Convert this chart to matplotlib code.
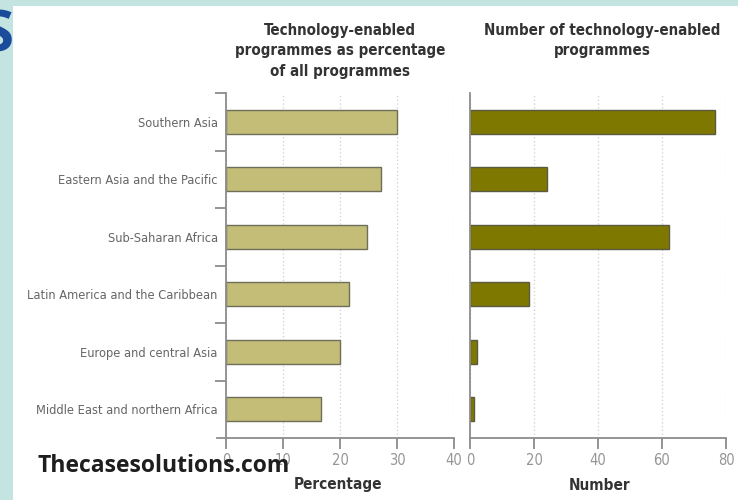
import matplotlib
matplotlib.use("Agg")
import matplotlib.pyplot as plt
from matplotlib.patches import Rectangle
from matplotlib.ticker import FixedLocator

# data
regions = ["Southern Asia", "Eastern Asia and the Pacific", "Sub-Saharan Africa",
           "Latin America and the Caribbean", "Europe and central Asia",
           "Middle East and northern Africa"]
pct_values = [30.0, 27.2, 24.8, 21.5, 20.0, 16.7]
num_values = [76.5, 24.0, 62.3, 18.5, 2.2, 1.4]
pct_ticks = [0, 10, 20, 30, 40]
num_ticks = [0, 20, 40, 60, 80]

NARROW = ["DejaVu Sans"]
TEAL = "#c4e4e2"
SPINE = "#8c8c8c"
GRID = "#cfcfcf"

W, H = 738, 500
fig = plt.figure(figsize=(W / 100, H / 100), dpi=100)
fig.patch.set_facecolor(TEAL)

# white page area
fig.patches.append(Rectangle((13 / W, 0), 1, 494 / H, transform=fig.transFigure,
                             facecolor="white", edgecolor="none", zorder=-5))

# blue letter peeking in at top-left
fig.text(-19 / W, 1 - 52 / H, "S", fontsize=42, fontweight="bold", color="#1b4c9b",
         family=["Open Sans", "DejaVu Sans"], va="baseline", ha="left", zorder=-4)

ypos = list(range(len(regions)))
ylim = (5.5, -0.5)
bottom = (H - 438) / H
height = (438 - 93) / H


def style_axis(ax):
    for s in ("top", "right"):
        ax.spines[s].set_visible(False)
    for s in ("left", "bottom"):
        ax.spines[s].set_color(SPINE)
        ax.spines[s].set_linewidth(1.3)
    ax.set_facecolor("none")
    ax.set_ylim(*ylim)
    ax.grid(axis="x", linestyle=(0, (1, 2)), color=GRID, linewidth=0.9)
    ax.set_axisbelow(True)
    ax.tick_params(axis="x", direction="out", length=8, width=1.3, color=SPINE,
                   labelcolor="#959595", labelsize=10.5, pad=3)
    for lab in ax.get_xticklabels():
        lab.set_family(NARROW)
        lab.set_stretch("condensed")


# left panel: percentage
ax1 = fig.add_axes([217 / W, bottom, (454 - 217) / W, height])
ax1.barh(ypos, pct_values, height=0.42, color="#c4bd78", edgecolor="#6e6e5a",
         linewidth=1.0)
ax1.set_xlim(-1.6, 40)
ax1.spines["left"].set_position(("data", 0))
ax1.set_xticks(pct_ticks)
ax1.set_yticks(ypos)
ax1.set_yticklabels(regions, family=NARROW, stretch="condensed", fontsize=9.2,
                    color="#666666")
ax1.yaxis.set_minor_locator(FixedLocator([i - 0.5 for i in range(len(regions))]))
ax1.tick_params(axis="y", which="major", length=0, pad=6)
ax1.tick_params(axis="y", which="minor", length=8, width=1.3, color=SPINE)
style_axis(ax1)

# right panel: number
ax2 = fig.add_axes([470 / W, bottom, (726 - 470) / W, height])
ax2.barh(ypos, num_values, height=0.42, color="#7f7800", edgecolor="#5a5a40",
         linewidth=1.0)
ax2.set_xlim(0, 80)
ax2.set_xticks(num_ticks)
ax2.set_yticks([])
style_axis(ax2)

# titles
title_kw = dict(family=NARROW, stretch="condensed", fontsize=10.8, fontweight="bold",
                color="#333333", ha="center", va="top", linespacing=1.45)
fig.text(340 / W, 1 - 23 / H,
         "Technology-enabled\nprogrammes as percentage\nof all programmes", **title_kw)
fig.text(602 / W, 1 - 23 / H,
         "Number of technology-enabled\nprogrammes", **title_kw)

# axis labels
lab_kw = dict(family=NARROW, stretch="condensed", fontsize=11, fontweight="bold",
              color="#333333", ha="center", va="center")
fig.text(338 / W, 1 - 485 / H, "Percentage", **lab_kw)
fig.text(600 / W, 1 - 485 / H, "Number", **lab_kw)

# watermark
fig.text(37 / W, 1 - 466 / H, "Thecasesolutions.com", fontsize=16.5, fontweight="bold",
         color="#1e1e1e", family=["Open Sans", "DejaVu Sans"], ha="left", va="center")

fig.savefig("out.png", dpi=100, facecolor=fig.get_facecolor())
